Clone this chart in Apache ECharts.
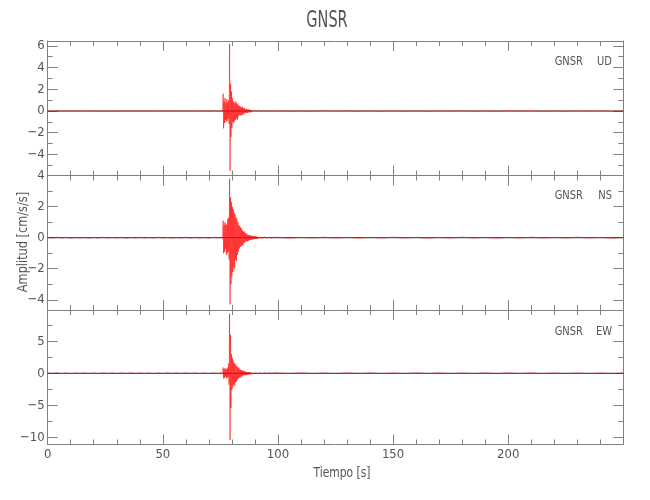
<!DOCTYPE html>
<html><head><meta charset="utf-8">
<script src="https://cdn.jsdelivr.net/npm/echarts@6/dist/echarts.min.js"></script>
<style>html,body{margin:0;padding:0;background:#fff}#c{width:650px;height:500px}</style>
</head><body><div id="c"></div>
<script>
// ---------- data ----------
const TITLE = 'GNSR';
const STATION = 'GNSR';
const COMPONENTS = ['UD', 'NS', 'EW'];
const X_MIN = 0, X_MAX = 250;
const X_LABEL = 'Tiempo [s]';
const Y_LABEL = 'Amplitud [cm/s/s]';

// sampling of the hand-read traces
const PRE_T0 = 0, PRE_DT = 2;      // 0 .. 74 s
const EVT_T0 = 75, EVT_DT = 0.2;   // 75 .. 99 s
const POST_T0 = 100, POST_DT = 5;  // 100 .. 250 s

// y ranges of each panel
const Y_MIN = [-5.94, -4.66, -11.09];
const Y_MAX = [6.45, 4.01, 9.86];
const Y_MAJOR = [[-4, -2, 0, 2, 4, 6], [-4, -2, 0, 2, 4], [-10, -5, 0, 5]];
const Y_MINOR = [[-5, -4, -3, -2, -1, 0, 1, 2, 3, 4, 5, 6],
                 [-4, -3, -2, -1, 0, 1, 2, 3, 4],
                 [-10, -7.5, -5, -2.5, 0, 2.5, 5, 7.5]];

const udPre = [0.01,-0.02,0.02,-0.01,0.02,-0.02,0.01,-0.02,0.03,-0.01,0.02,-0.02,0.01,-0.02,0.02,-0.03,0.02,-0.01,0.02,-0.02,0.01,-0.02,0.02,-0.01,0.03,-0.02,0.02,-0.01,0.02,-0.02,0.01,-0.02,0.02,-0.01,0.02,-0.03,0.02,-0.02];
const udEvt = [0.03,-0.03,0.04,-0.03,0.04,-0.05,
  1.6,-1.6,
  0.9,-1.1,1.2,-0.8,0.7,-1.0,1.1,-0.9,0.8,-0.7,1.0,-1.2,
  6.2,-5.5,2.5,-2.4,1.8,-1.6,
  1.2,-1.0,0.9,-1.1,0.8,-0.9,0.7,-0.8,0.9,-0.7,0.6,-0.8,0.7,
  -0.5,0.45,-0.4,0.5,-0.35,0.4,-0.45,0.3,-0.35,0.4,-0.3,0.25,-0.3,0.28,
  -0.2,0.18,-0.15,0.2,-0.17,0.14,-0.16,0.15,-0.12,0.14,-0.13,0.1,-0.12,0.11,-0.1,0.09,-0.1,0.08,-0.09,0.08,-0.07,0.08,-0.06,0.07,-0.07,0.06,-0.06,0.05,
  -0.05,0.05,-0.04,0.05,-0.05,0.04,-0.04,0.04,-0.04,0.05,-0.04,0.03,-0.04,0.04,-0.03,0.04,-0.03,0.04,-0.03,0.03,
  -0.04,0.03,-0.03,0.03,-0.03,0.04,-0.03,0.02,-0.03,0.03,-0.02,0.03,-0.03,0.02,-0.03,0.02,-0.02,0.03,-0.02,0.02];
const udPost = [0.02,-0.02,0.01,-0.02,0.02,-0.01,0.02,-0.02,0.01,-0.02,0.02,-0.02,0.01,-0.02,0.02,-0.01,0.02,-0.02,0.01,-0.02,0.02,-0.01,0.02,-0.02,0.01,-0.02,0.02,-0.01,0.02,-0.02,0.01];

const nsPre = [0.02,-0.02,0.03,-0.02,0.02,-0.03,0.02,-0.02,0.02,-0.03,0.02,-0.02,0.03,-0.02,0.02,-0.02,0.02,-0.03,0.02,-0.02,0.03,-0.02,0.02,-0.02,0.03,-0.02,0.02,-0.03,0.02,-0.02,0.02,-0.02,0.03,-0.02,0.02,-0.03,0.02,-0.02];
const nsEvt = [0.03,-0.03,0.04,-0.03,0.04,-0.04,
  1.1,-1.0,
  0.8,-0.9,1.0,-0.7,0.9,-1.1,0.8,-1.0,1.2,-0.9,1.3,-1.4,
  3.8,-4.3,2.6,-3.0,2.3,-2.5,
  2.0,-2.2,1.8,-1.9,1.6,-2.0,1.5,-1.4,1.3,-1.5,1.2,-1.1,1.0,
  -0.9,0.8,-0.7,0.75,-0.6,0.65,-0.55,0.6,-0.5,0.45,-0.5,0.4,-0.35,0.4,
  -0.3,0.28,-0.25,0.3,-0.22,0.2,-0.24,0.18,-0.2,0.17,-0.15,0.16,-0.14,0.13,-0.12,0.13,-0.11,0.1,-0.12,0.1,-0.09,0.1,-0.08,0.09,-0.08,0.07,-0.08,0.07,
  -0.06,0.05,-0.06,0.06,-0.05,0.05,-0.05,0.06,-0.04,0.05,-0.05,0.04,-0.05,0.05,-0.04,0.05,-0.04,0.04,-0.04,0.04,
  -0.03,0.04,-0.04,0.03,-0.04,0.03,-0.03,0.04,-0.03,0.03,-0.03,0.03,-0.03,0.03,-0.03,0.02,-0.03,0.03,-0.02,0.03];
const nsPost = [0.02,-0.03,0.02,-0.02,0.03,-0.02,0.02,-0.03,0.02,-0.02,0.03,-0.02,0.02,-0.03,0.02,-0.02,0.03,-0.02,0.02,-0.03,0.02,-0.02,0.03,-0.02,0.02,-0.02,0.03,-0.02,0.02,-0.03,0.02];

const ewPre = [0.05,-0.04,0.06,-0.05,0.04,-0.06,0.05,-0.04,0.06,-0.05,0.04,-0.06,0.05,-0.04,0.05,-0.06,0.04,-0.05,0.06,-0.04,0.05,-0.05,0.04,-0.06,0.05,-0.04,0.06,-0.05,0.04,-0.05,0.06,-0.04,0.05,-0.06,0.04,-0.05,0.05,-0.04];
const ewEvt = [0.06,-0.07,0.08,-0.06,0.07,-0.08,
  0.9,-0.8,
  0.6,-0.7,0.8,-0.5,0.7,-0.8,0.6,-0.7,0.9,-0.6,1.5,-1.8,
  9.3,-10.4,6.0,-5.4,3.0,-2.6,
  2.4,-2.2,2.0,-1.8,1.6,-1.9,1.5,-1.4,1.2,-1.3,1.1,-1.0,0.9,
  -0.8,0.9,-0.7,0.6,-0.7,0.55,-0.5,0.45,-0.5,0.4,-0.35,0.4,-0.3,0.35,
  -0.3,0.25,-0.28,0.22,-0.25,0.2,-0.22,0.2,-0.18,0.2,-0.17,0.15,-0.18,0.15,-0.14,0.15,-0.13,0.12,-0.14,0.12,-0.12,0.13,-0.1,0.12,-0.11,0.1,-0.1,0.1,
  -0.1,0.09,-0.11,0.1,-0.09,0.1,-0.1,0.08,-0.1,0.09,-0.08,0.09,-0.1,0.08,-0.09,0.1,-0.08,0.09,-0.08,0.09,
  -0.08,0.07,-0.09,0.08,-0.07,0.08,-0.08,0.07,-0.07,0.08,-0.07,0.06,-0.08,0.07,-0.06,0.07,-0.07,0.06,-0.07,0.06];
const ewPost = [0.05,-0.04,0.06,-0.05,0.04,-0.06,0.05,-0.04,0.05,-0.05,0.04,-0.05,0.06,-0.04,0.05,-0.05,0.04,-0.05,0.05,-0.06,0.05,-0.04,0.06,-0.05,0.04,-0.05,0.05,-0.06,0.04,-0.05,0.05];

const TRACES = [[udPre, udEvt, udPost], [nsPre, nsEvt, nsPost], [ewPre, ewEvt, ewPost]];

// ---------- build ----------
function build(pre, evt, post) {
  const d = [];
  pre.forEach((v, i) => d.push([PRE_T0 + i * PRE_DT, v]));
  evt.forEach((v, i) => d.push([+(EVT_T0 + i * EVT_DT).toFixed(2), v]));
  post.forEach((v, i) => d.push([POST_T0 + i * POST_DT, v]));
  return d;
}

const AX = '#808080', TXT = '#555555', FONT = '"Liberation Sans Narrow", "DejaVu Sans Condensed", sans-serif';
const GRID_TOP = [41, 175.5, 310], GRID_H = 134.5, GRID_L = 47.7, GRID_R = 26.7;
const fmt = v => (v < 0 ? '\u2212' + Math.abs(v) : String(v));

const grids = [], xAxes = [], yAxes = [], series = [];
for (let g = 0; g < 3; g++) {
  grids.push({left: GRID_L, right: GRID_R, top: GRID_TOP[g], height: GRID_H, containLabel: false});
  ['bottom', 'top'].forEach(pos => {
    xAxes.push({
      type: 'value', gridIndex: g, min: X_MIN, max: X_MAX, interval: 50, position: pos,
      axisLine: {onZero: false, lineStyle: {color: AX, width: 1}},
      axisTick: {inside: true, length: 10, lineStyle: {color: AX}},
      minorTick: {show: true, splitNumber: 5, length: 5, lineStyle: {color: AX}},
      splitLine: {show: false},
      axisLabel: {show: g === 2 && pos === 'bottom', showMaxLabel: false, margin: 4,
        color: TXT, fontFamily: FONT, fontSize: 13}
    });
  });
  ['left', 'right'].forEach(pos => {
    yAxes.push({
      type: 'value', gridIndex: g, min: Y_MIN[g], max: Y_MAX[g], position: pos,
      axisLine: {show: true, onZero: false, lineStyle: {color: AX}},
      axisTick: {inside: true, length: 10, customValues: Y_MAJOR[g], lineStyle: {color: AX}},
      splitLine: {show: false},
      axisLabel: {show: pos === 'left', customValues: Y_MAJOR[g], formatter: fmt, margin: 3,
        color: TXT, fontFamily: FONT, fontSize: 13}
    });
    yAxes.push({
      type: 'value', gridIndex: g, min: Y_MIN[g], max: Y_MAX[g], position: pos,
      axisLine: {show: false, onZero: false},
      axisTick: {inside: true, length: 5, customValues: Y_MINOR[g], lineStyle: {color: AX}},
      splitLine: {show: false},
      axisLabel: {show: false}
    });
  });
  series.push({
    type: 'line', xAxisIndex: 2 * g, yAxisIndex: 4 * g, data: [[X_MIN, 0], [X_MAX, 0]],
    symbol: 'none', silent: true, lineStyle: {color: '#303030', width: 1}, z: 1
  });
  series.push({
    type: 'line', xAxisIndex: 2 * g, yAxisIndex: 4 * g, data: build(...TRACES[g]),
    symbol: 'none', showSymbol: false, sampling: null, clip: true,
    lineStyle: {color: '#ff0000', width: 0.7, opacity: 0.8}, z: 2
  });
}

const graphics = [
  {type: 'text', x: 327, y: 21, scaleX: 0.7, style: {text: TITLE, font: '23px ' + FONT, fill: TXT, align: 'center', verticalAlign: 'middle'}},
  {type: 'text', x: 342, y: 473, scaleX: 0.85, style: {text: X_LABEL, font: '14px ' + FONT, fill: TXT, align: 'center', verticalAlign: 'middle'}},
  {type: 'text', x: 23, y: 242, rotation: Math.PI / 2, scaleX: 0.9, style: {text: Y_LABEL, font: '14px ' + FONT, fill: TXT, align: 'center', verticalAlign: 'middle'}}
];
const LABEL_Y = [62, 196, 332];
COMPONENTS.forEach((c, g) => {
  graphics.push({type: 'text', x: 583, y: LABEL_Y[g], scaleX: 0.85, style: {text: STATION, font: '13px ' + FONT, fill: TXT, align: 'right', verticalAlign: 'middle'}});
  graphics.push({type: 'text', x: 612, y: LABEL_Y[g], scaleX: 0.85, style: {text: c, font: '13px ' + FONT, fill: TXT, align: 'right', verticalAlign: 'middle'}});
});

const chart = echarts.init(document.getElementById('c'), null, {renderer: 'canvas'});
chart.setOption({
  animation: false,
  backgroundColor: '#ffffff',
  grid: grids, xAxis: xAxes, yAxis: yAxes, series: series, graphic: graphics
});
</script></body></html>
